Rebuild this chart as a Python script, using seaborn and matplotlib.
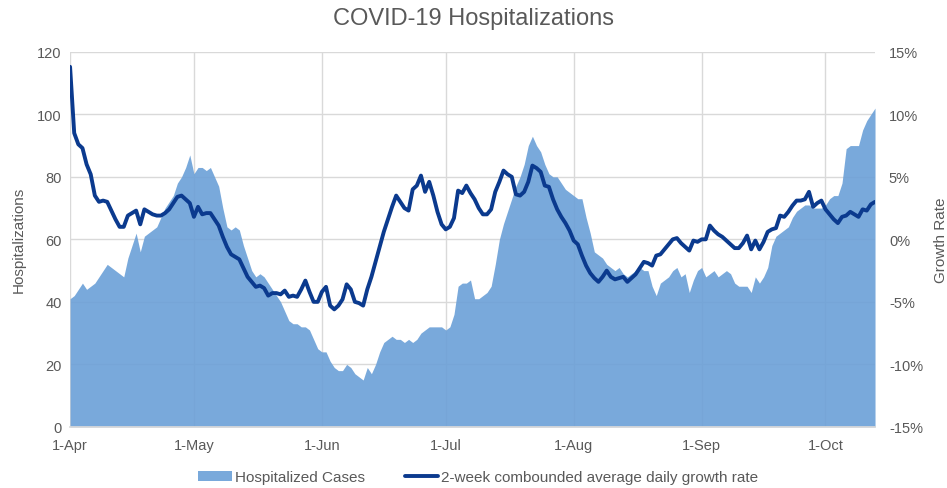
import numpy as np
import pandas as pd
import matplotlib
matplotlib.use("Agg")
import matplotlib.pyplot as plt
import matplotlib.dates as mdates
from matplotlib.patches import Patch
from matplotlib.lines import Line2D
import seaborn as sns

start_date = "2020-04-01"
n_days = 196

hospitalized = [
    41, 42, 44, 46, 44, 45, 46, 48, 50, 52,
    51, 50, 49, 48, 54, 58, 62, 56, 61, 62,
    63, 64, 67, 70, 72, 74, 78, 80, 83, 87,
    81, 83, 83, 82, 83, 80, 77, 70, 64, 63,
    64, 63, 58, 54, 50, 48, 49, 48, 46, 44,
    42, 40, 37, 34, 33, 33, 32, 32, 31, 28,
    25, 24, 24, 21, 19, 18, 18, 20, 19, 17,
    16, 15, 19, 17, 20, 24, 27, 28, 29, 28,
    28, 27, 28, 27, 28, 30, 31, 32, 32, 32,
    32, 31, 32, 36, 45, 46, 46, 47, 41, 41,
    42, 43, 45, 52, 60, 65, 69, 73, 77, 80,
    84, 90, 93, 90, 88, 84, 81, 80, 80, 78,
    76, 75, 74, 73, 73, 67, 62, 56, 55, 54,
    52, 51, 50, 51, 49, 48, 49, 50, 51, 50,
    50, 45, 42, 46, 47, 48, 50, 51, 48, 49,
    43, 47, 50, 51, 48, 49, 50, 48, 49, 50,
    49, 46, 45, 45, 45, 43, 48, 46, 48, 51,
    58, 61, 62, 63, 64, 67, 69, 70, 71, 71,
    70, 70, 70, 71, 73, 74, 74, 78, 89, 90,
    90, 90, 95, 98, 100, 102,
]

growth_pct = [
    13.8, 8.5, 7.6, 7.3, 6.0, 5.2, 3.5, 3.0, 3.1, 3.0,
    2.3, 1.6, 1.0, 1.0, 1.9, 2.1, 2.3, 1.2, 2.4, 2.2,
    2.0, 1.9, 1.9, 2.1, 2.4, 2.9, 3.4, 3.5, 3.2, 2.9,
    1.8, 2.6, 2.0, 2.1, 2.1, 1.6, 1.1, 0.2, -0.6, -1.2,
    -1.4, -1.6, -2.3, -3.0, -3.4, -3.8, -3.7, -3.9, -4.5, -4.3,
    -4.3, -4.4, -4.1, -4.6, -4.5, -4.6, -4.0, -3.3, -4.2, -5.0,
    -5.0, -4.2, -3.8, -5.3, -5.6, -5.3, -4.8, -3.6, -4.0, -5.0,
    -5.1, -5.3, -4.0, -3.0, -1.8, -0.6, 0.6, 1.6, 2.6, 3.5,
    3.0, 2.5, 2.3, 4.0, 4.3, 5.1, 3.8, 4.6, 3.5, 2.2,
    1.2, 0.8, 1.0, 1.7, 3.9, 3.7, 4.3, 3.7, 3.2, 2.5,
    2.0, 2.0, 2.4, 3.8, 4.6, 5.5, 5.2, 5.0, 3.6, 3.5,
    3.8, 4.6, 5.9, 5.7, 5.4, 4.3, 4.2, 3.2, 2.4, 1.8,
    1.3, 0.7, -0.1, -0.4, -1.3, -2.1, -2.7, -3.1, -3.4, -3.0,
    -2.5, -3.0, -3.2, -3.1, -3.0, -3.4, -3.1, -2.8, -2.3, -1.8,
    -1.9, -2.1, -1.3, -1.2, -0.8, -0.4, 0.0, 0.1, -0.3, -0.6,
    -0.9, -0.1, -0.2, 0.0, 0.0, 1.1, 0.7, 0.4, 0.2, -0.1,
    -0.4, -0.7, -0.7, -0.3, 0.3, -0.8, -0.1, -0.8, -0.2, 0.6,
    0.8, 0.9, 1.9, 1.8, 2.2, 2.7, 3.1, 3.1, 3.2, 3.8,
    2.6, 2.9, 3.1, 2.4, 2.0, 1.6, 1.3, 1.8, 1.9, 2.2,
    2.0, 1.8, 2.4, 2.3, 2.8, 3.0,
]

title_text = "COVID-19 Hospitalizations"
left_label = "Hospitalizations"
right_label = "Growth Rate"
area_label = "Hospitalized Cases"
line_label = "2-week combounded average daily growth rate"

dates = pd.date_range(start_date, periods=n_days, freq="D")
df = pd.DataFrame({"date": dates,
                   "hosp": hospitalized,
                   "growth": np.array(growth_pct) / 100.0})

sns.set_theme(style="white")
plt.rcParams["font.family"] = ["Liberation Sans", "DejaVu Sans"]

text_color = "#595959"
grid_color = "#d9d9d9"
fill_color = "#6ba0d7"
line_color = "#0b3a8e"

fig = plt.figure(figsize=(9.47, 4.89), dpi=100)
ax = fig.add_axes([0.074, 0.125, 0.850, 0.767])

ax.fill_between(df["date"], 0, df["hosp"], color=fill_color, alpha=0.9,
                linewidth=0, zorder=2)
ax.set_ylim(0, 120)
ax.set_yticks(range(0, 121, 20))
ax.set_xlim(pd.Timestamp("2020-04-01"), pd.Timestamp("2020-10-13"))
ax.xaxis.set_major_locator(mdates.MonthLocator(bymonthday=1))
ax.xaxis.set_major_formatter(mdates.DateFormatter("%-d-%b"))
ax.grid(True, color=grid_color, linewidth=1.0, zorder=1)
ax.set_axisbelow(True)
for s in ["top", "left", "right"]:
    ax.spines[s].set_visible(False)
ax.spines["bottom"].set_color(grid_color)
ax.tick_params(axis="both", colors=text_color, labelsize=10.5, length=0)
ax.tick_params(axis="x", pad=8)
ax.tick_params(axis="y", pad=6)
ax.set_ylabel(left_label, color=text_color, fontsize=11, labelpad=8)
ax.set_xlabel("")

ax2 = ax.twinx()
sns.lineplot(data=df, x="date", y="growth", ax=ax2, color=line_color,
             linewidth=2.8, legend=False)
ax2.set_ylim(-0.15, 0.15)
ax2.set_yticks(np.arange(-0.15, 0.151, 0.05))
ax2.yaxis.set_major_formatter(matplotlib.ticker.FuncFormatter(
    lambda v, p: f"{round(v * 100):d}%"))
for s in ["top", "left", "right", "bottom"]:
    ax2.spines[s].set_visible(False)
ax2.tick_params(axis="y", colors=text_color, labelsize=10.5, length=0, pad=10)
ax2.set_ylabel(right_label, color=text_color, fontsize=11, rotation=90,
               labelpad=8)
ax2.set_xlabel("")
ax2.grid(False)

fig.text(0.5, 0.962, title_text, color=text_color, fontsize=17,
         ha="center", va="center")

handles = [Patch(facecolor=fill_color, alpha=0.9, edgecolor="none"),
           Line2D([0], [0], color=line_color, linewidth=2.8)]
fig.legend(handles, [area_label, line_label], loc="center",
           bbox_to_anchor=(0.505, 0.022), ncol=2, frameon=False,
           fontsize=11, labelcolor=text_color, handlelength=2.2,
           handletextpad=0.2, columnspacing=2.6, handleheight=0.6)

fig.savefig("out.png", dpi=100)
